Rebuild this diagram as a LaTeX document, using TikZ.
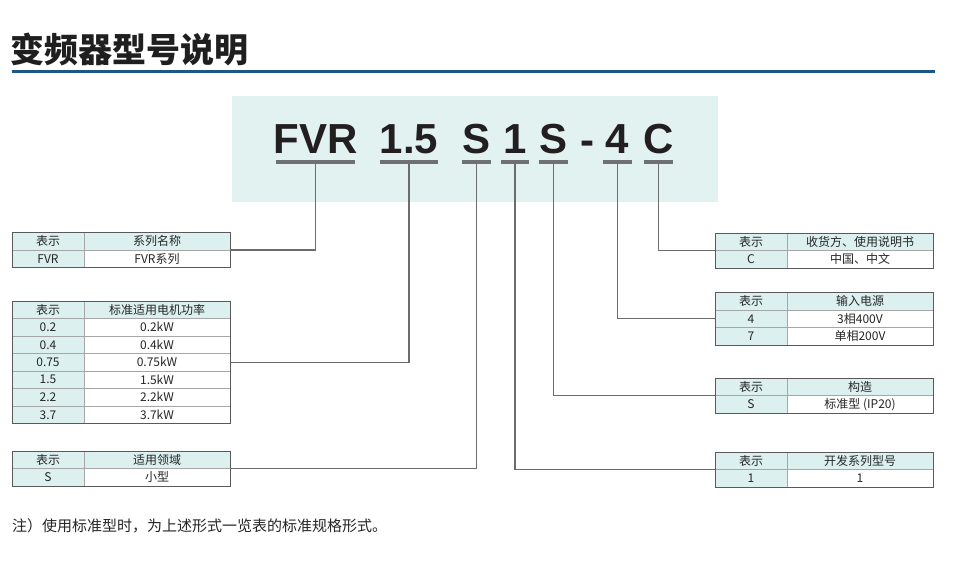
\documentclass[tikz,border=0pt]{standalone}
\usepackage{fontspec}
\setmainfont{Liberation Sans}
\newfontfamily\cjk{Noto Sans CJK SC}
\usetikzlibrary{positioning,fit}

\definecolor{rulecol}{RGB}{28,88,135}
\definecolor{boxcol}{RGB}{225,242,241}
\definecolor{keycol}{RGB}{220,240,239}
\definecolor{barcol}{RGB}{110,112,115}
\definecolor{inkcol}{RGB}{35,31,32}

% name, x, y, rows, header, key/value list
\newcommand{\spectable}[6]{%
  \node[keycell, anchor=north west] (#1-k0) at (#2,#3) {表示};
  \node[headcell, right=0pt of #1-k0] (#1-v0) {#5};
  \foreach \cellk/\cellv [count=\i] in {#6} {
    \node[keycell, anchor=north west] (#1-k\i) at ({#2},{#3+\i*17.5}) {\cellk};
    \node[valcell, right=0pt of #1-k\i] (#1-v\i) {\cellv};
  }
  \node[tframe, fit=(#1-k0)(#1-v#4)] (#1) {};
}

\begin{document}
\begin{tikzpicture}[x=1pt, y=-1pt,
  cell/.style={draw=gray!70, line width=0.6pt, inner sep=0pt, outer sep=0pt, minimum height=17.5pt, text=black!85, font=\cjk\fontsize{12}{14}\selectfont},
  keycell/.style={cell, fill=keycol, minimum width=72pt},
  headcell/.style={cell, fill=keycol, minimum width=146pt},
  valcell/.style={cell, fill=white, minimum width=146pt},
  tframe/.style={draw=black!65, line width=0.9pt, inner sep=0pt},
  bar/.style={fill=barcol, inner sep=0pt, minimum height=3pt},
  codech/.style={inner sep=0pt, text=inkcol, font=\bfseries\fontsize{42}{48}\selectfont},
  leader/.style={draw=gray!85!black, line width=1.1pt}]
  \useasboundingbox (0,0) rectangle (953,583);

  \node[anchor=west, inner sep=0pt, text=black!88, font=\cjk\bfseries\fontsize{34}{40}\selectfont] (title) at (10,49) {变频器型号说明};
  \draw[rulecol, line width=3pt] (12,72) -- (935,72);

  \fill[boxcol] (232,96) rectangle (718,202);

  \node[bar, minimum width=79pt] (fvr) at (315.5,162) {};
  \node[bar, minimum width=58pt] (pw) at (409,162) {};
  \node[bar, minimum width=29pt] (ap) at (476.5,162) {};
  \node[bar, minimum width=28pt] (sr) at (515,162) {};
  \node[bar, minimum width=29pt] (st) at (553.5,162) {};
  \node[bar, minimum width=29pt] (vin) at (617.5,162) {};
  \node[bar, minimum width=29pt] (dst) at (658.5,162) {};
  \node[codech, above=6.5pt of fvr] (fvr-t) {FVR};
  \node[codech, above=6.5pt of pw] (pw-t) {1.5};
  \node[codech, above=6.5pt of ap] (ap-t) {S};
  \node[codech, above=6.5pt of sr] (sr-t) {1};
  \node[codech, above=6.5pt of st] (st-t) {S};
  \node[codech, anchor=base] (dash) at (587,154) {-};
  \node[codech, above=6.5pt of vin] (vin-t) {4};
  \node[codech, above=6.5pt of dst] (dst-t) {C};

  \spectable{t-series}{12}{232.5}{1}{系列名称}{FVR/FVR系列}
  \spectable{t-power}{12}{301}{6}{标准适用电机功率}{0.2/0.2kW, 0.4/0.4kW, 0.75/0.75kW, 1.5/1.5kW, 2.2/2.2kW, 3.7/3.7kW}
  \spectable{t-field}{12}{451}{1}{适用领域}{S/小型}
  \spectable{t-dest}{715}{233}{1}{收货方、使用说明书}{C/中国、中文}
  \spectable{t-input}{715}{292.5}{2}{输入电源}{4/3相400V, 7/单相200V}
  \spectable{t-struct}{715}{378}{1}{构造}{S/标准型 (IP20)}
  \spectable{t-dev}{715}{452}{1}{开发系列型号}{1/1}

  \draw[leader] (fvr.south) |- (t-series.east);
  \draw[leader] (pw.south) |- (t-power.east);
  \draw[leader] (ap.south) |- (t-field.east);
  \draw[leader] (sr.south) |- (t-dev.west);
  \draw[leader] (st.south) |- (t-struct.west);
  \draw[leader] (vin.south) |- (t-input.west);
  \draw[leader] (dst.south) |- (t-dest.west);

  \node[anchor=west, inner sep=0pt, text=black!85, font=\cjk\fontsize{15}{18}\selectfont] (note) at (12,526) {注）使用标准型时，为上述形式一览表的标准规格形式。};
\end{tikzpicture}
\end{document}
